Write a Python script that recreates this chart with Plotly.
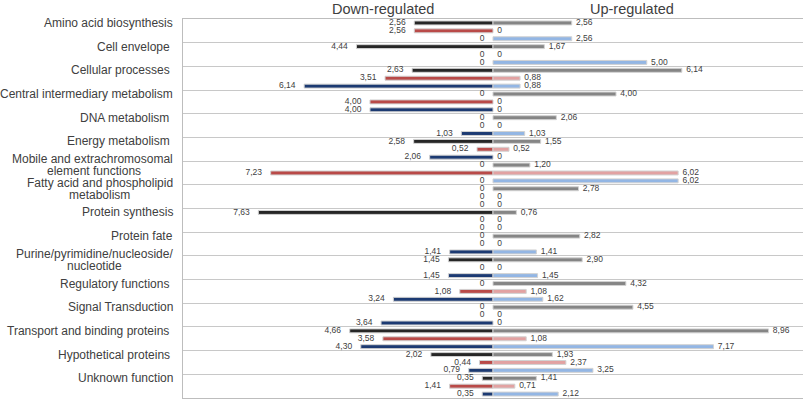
import plotly.graph_objects as go

categories = [
    "Amino acid biosynthesis", "Cell envelope ", "Cellular processes ",
    "Central intermediary metabolism", "DNA metabolism ", "Energy metabolism ",
    "Mobile and extrachromosomal<br>element functions",
    "Fatty acid and phospholipid<br>metabolism",
    "Protein synthesis", "Protein fate", "Purine/pyrimidine/nucleoside/<br>nucleotide ",
    "Regulatory functions ", "Signal Transduction", "Transport and binding proteins ",
    "Hypothetical proteins ", "Unknown function",
]

# Down-regulated (three series per category)
down_s1 = [2.56, 4.44, 2.63, 0, 0, 2.58, 0, 0, 7.63, 0, 1.45, 0, 0, 4.66, 2.02, 0.35]
down_s2 = [2.56, 0, 3.51, 4.00, 0, 0.52, 7.23, 0, 0, 0, 0, 1.08, 0, 3.58, 0.44, 1.41]
down_s3 = [0, 0, 6.14, 4.00, 1.03, 2.06, 0, 0, 0, 1.41, 1.45, 3.24, 3.64, 4.30, 0.79, 0.35]
# Up-regulated
up_s1 = [2.56, 1.67, 6.14, 4.00, 2.06, 1.55, 1.20, 2.78, 0.76, 2.82, 2.90, 4.32, 4.55, 8.96, 1.93, 1.41]
up_s2 = [0, 0, 0.88, 0, 0, 0.52, 6.02, 0, 0, 0, 0, 1.08, 0, 1.08, 2.37, 0.71]
up_s3 = [2.56, 5.00, 0.88, 0, 1.03, 0, 6.02, 0, 0, 1.41, 1.45, 1.62, 0, 7.17, 3.25, 2.12]

down_colors = ["#262626", "#b94a48", "#1c3a72"]
up_colors = ["#858585", "#e2a2a2", "#93b6e4"]

FONT = "Liberation Sans, Arial, sans-serif"
LABEL_SIZE = 12
n = len(categories)

_W = {"f": .278, "i": .222, "j": .222, "l": .222, "r": .333, "t": .278, " ": .278,
      "/": .278, "c": .5, "k": .5, "s": .5, "v": .5, "x": .5, "y": .5, "z": .5,
      "m": .833, "w": .722}


def text_width(s):
    w = 0
    for ch in s:
        if ch.isupper():
            w += .667
        else:
            w += _W.get(ch, .556)
    return w * LABEL_SIZE


def fmt(v):
    return "0" if v == 0 else f"{v:.2f}".replace(".", ",")


fig = go.Figure()
down = [down_s1, down_s2, down_s3]
up = [up_s1, up_s2, up_s3]
for r in range(3):
    ys = [-(3 * i + r) for i in range(n)]
    fig.add_trace(go.Bar(
        y=ys, x=[-v if v else None for v in down[r]], orientation="h", width=0.5,
        marker=dict(color=down_colors[r], line=dict(color="#d2d2d2", width=1)),
        showlegend=False, hoverinfo="skip"))
    fig.add_trace(go.Bar(
        y=ys, x=[v if v else None for v in up[r]], orientation="h", width=0.5,
        marker=dict(color=up_colors[r], line=dict(color="#d2d2d2", width=1)),
        showlegend=False, hoverinfo="skip"))
    fig.add_trace(go.Scatter(
        y=ys, x=[-v - 0.28 for v in down[r]], mode="text",
        text=[fmt(v) for v in down[r]], textposition="middle left",
        textfont=dict(size=8.5, color="#404040", family=FONT),
        showlegend=False, hoverinfo="skip", cliponaxis=False))
    fig.add_trace(go.Scatter(
        y=ys, x=[v + 0.14 for v in up[r]], mode="text",
        text=[fmt(v) for v in up[r]], textposition="middle right",
        textfont=dict(size=8.5, color="#404040", family=FONT),
        showlegend=False, hoverinfo="skip", cliponaxis=False))

annotations = []
for i, c in enumerate(categories):
    lines = c.split("<br>")
    if len(lines) == 1:
        annotations.append(dict(
            x=0, xref="paper", xanchor="right", xshift=-9, y=-(3 * i), yref="y",
            text=c, showarrow=False, borderpad=0,
            font=dict(size=LABEL_SIZE, color="#404040", family=FONT)))
    else:
        w0 = text_width(lines[0].strip())
        for k, ln in enumerate(lines):
            wk = text_width(ln.strip())
            annotations.append(dict(
                x=0, xref="paper", xanchor="right",
                xshift=-9 - (w0 - wk) / 2, y=-(3 * i), yref="y",
                yshift=6 - 12 * k, yanchor="middle", borderpad=0,
                text=ln.strip(), showarrow=False,
                font=dict(size=LABEL_SIZE, color="#404040", family=FONT)))

annotations.append(dict(x=0.3226, xref="paper", y=1, yref="paper", yshift=10,
                        yanchor="middle",
                        text="Down-regulated", showarrow=False, xanchor="center",
                        font=dict(size=14.5, color="#404040", family=FONT)))
annotations.append(dict(x=0.724, xref="paper", y=1, yref="paper", yshift=10,
                        yanchor="middle",
                        text="Up-regulated", showarrow=False, xanchor="center",
                        font=dict(size=14.5, color="#404040", family=FONT)))

fig.update_layout(
    width=808, height=402,
    margin=dict(l=183, r=5, t=19, b=4),
    paper_bgcolor="white", plot_bgcolor="white",
    barmode="overlay",
    annotations=annotations,
    xaxis=dict(range=[-10.08, 10.08], showgrid=False, zeroline=False,
               showticklabels=False, ticks="", showline=True, mirror=True,
               linecolor="#bdbdbd", linewidth=1),
    yaxis=dict(range=[-3 * n + 0.5, 0.5], showgrid=False, zeroline=False,
               showticklabels=False, ticks="", showline=True, linecolor="#bdbdbd",
               linewidth=1,
               minor=dict(tick0=0.5, dtick=3, showgrid=True, gridcolor="#c8c8c8",
                          gridwidth=1, ticks="")),
)

fig.write_html("out.html")
